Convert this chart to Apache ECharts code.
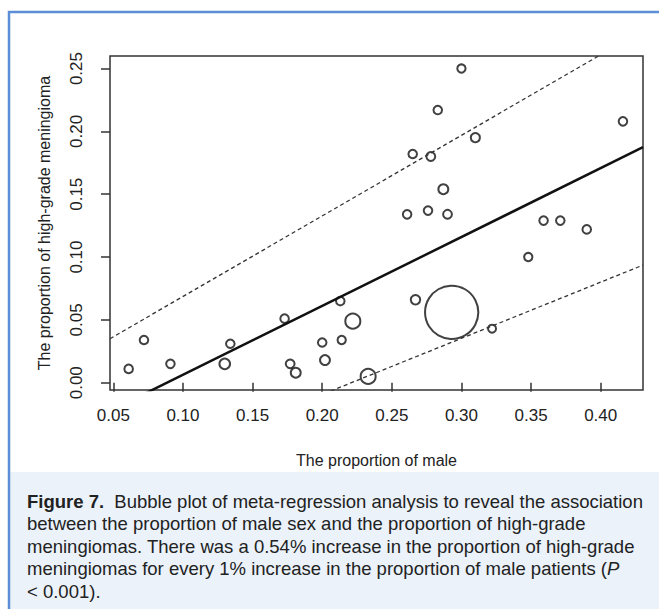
<!DOCTYPE html>
<html>
<head>
<meta charset="utf-8">
<title>Bubble plot of meta-regression</title>
<script src="https://cdn.jsdelivr.net/npm/echarts@6/dist/echarts.min.js"></script>
<style>
  html, body { margin: 0; padding: 0; background: #fff; }
  #chart { width: 659px; height: 609px; }
</style>
</head>
<body>
<div id="chart"></div>
<script>
// proportion of male patients in each study
const maleProp = [0.061, 0.072, 0.091, 0.130, 0.134, 0.173, 0.177, 0.181, 0.200, 0.202,
  0.213, 0.214, 0.222, 0.233, 0.261, 0.265, 0.267, 0.276, 0.278, 0.283,
  0.287, 0.290, 0.293, 0.300, 0.310, 0.322, 0.348, 0.359, 0.371, 0.390, 0.416]
// proportion of high-grade meningioma in each study
const highGrade = [0.011, 0.034, 0.015, 0.015, 0.031, 0.051, 0.015, 0.008, 0.032, 0.018,
  0.065, 0.034, 0.049, 0.005, 0.134, 0.182, 0.066, 0.137, 0.180, 0.217,
  0.154, 0.134, 0.056, 0.250, 0.195, 0.043, 0.100, 0.129, 0.129, 0.122, 0.208]
// relative study weight (bubble area)
const weights = [1.5, 1.5, 1.5, 2.3, 1.5, 1.5, 1.6, 2.0, 1.5, 2.0,
  1.5, 1.4, 4.6, 4.6, 1.5, 1.5, 1.8, 1.5, 1.6, 1.5,
  2.0, 1.6, 58, 1.4, 1.7, 1.3, 1.4, 1.5, 1.5, 1.5, 1.5]

// regression line and prediction bounds (x at the plot edges)
const lineX = [0.0476, 0.4304]
const fitY = [-0.0224, 0.1874]
const upperY = [0.035, 0.2805]
const lowerY = [-0.0775, 0.0936]

const xTicks = [0.05, 0.10, 0.15, 0.20, 0.25, 0.30, 0.35, 0.40]
const yTicks = [0.00, 0.05, 0.10, 0.15, 0.20, 0.25]

const captionLines = [
  '{b|Figure 7.}  Bubble plot of meta-regression analysis to reveal the association',
  'between the proportion of male sex and the proportion of high-grade',
  'meningiomas. There was a 0.54% increase in the proportion of high-grade',
  'meningiomas for every 1% increase in the proportion of male patients ({i|P}',
  '< 0.001).'
]

const axisFont = 'Liberation Sans, Arial, sans-serif'
const capFont = 'Liberation Sans, Arial, sans-serif'
const capSize = 18.5

const pairs = (xs, ys) => xs.map((x, i) => [x, ys[i]])

const chart = echarts.init(document.getElementById('chart'), null, { renderer: 'svg' })

// caption, one text element per printed line
const captionText = captionLines.map((t, i) => ({
  type: 'text',
  silent: true,
  style: {
    text: t,
    x: 27,
    y: 501 + i * 22.5,
    verticalAlign: 'middle',
    fontFamily: capFont,
    fontSize: capSize,
    fill: '#222',
    rich: {
      b: { fontFamily: capFont, fontSize: capSize, fontWeight: 'bold', fill: '#222' },
      i: { fontFamily: capFont, fontSize: capSize, fontStyle: 'italic', fill: '#222' }
    }
  }
}))

const option = {
  animation: false,
  grid: {
    left: 110, top: 56, right: 16, bottom: 219,
    show: true, borderColor: '#333', borderWidth: 1.5, backgroundColor: 'transparent'
  },
  xAxis: {
    type: 'value',
    min: 0.0476,
    max: 0.4304,
    name: 'The proportion of male',
    nameLocation: 'middle',
    nameGap: 62,
    nameTextStyle: { fontFamily: axisFont, fontSize: 16, color: '#222' },
    axisLine: { show: false },
    axisTick: { show: true, length: 9, customValues: xTicks, lineStyle: { color: '#333', width: 1.5 } },
    axisLabel: { customValues: xTicks, formatter: (v) => v.toFixed(2), margin: 17, fontFamily: axisFont, fontSize: 17, color: '#222' },
    splitLine: { show: false }
  },
  yAxis: {
    type: 'value',
    min: -0.0058,
    max: 0.26,
    name: 'The proportion of high-grade meningioma',
    nameLocation: 'middle',
    nameGap: 58,
    nameTextStyle: { fontFamily: axisFont, fontSize: 16, color: '#222' },
    axisLine: { show: false },
    axisTick: { show: true, length: 9, customValues: yTicks, lineStyle: { color: '#333', width: 1.5 } },
    axisLabel: { customValues: yTicks, rotate: 90, formatter: (v) => v.toFixed(2), margin: 25, fontFamily: axisFont, fontSize: 17, color: '#222' },
    splitLine: { show: false }
  },
  series: [
    {
      type: 'line',
      data: pairs(lineX, upperY),
      symbol: 'none',
      clip: true,
      silent: true,
      lineStyle: { color: '#333', width: 1.3, type: [4, 3] }
    },
    {
      type: 'line',
      data: pairs(lineX, lowerY),
      symbol: 'none',
      clip: true,
      silent: true,
      lineStyle: { color: '#333', width: 1.3, type: [4, 3] }
    },
    {
      type: 'line',
      data: pairs(lineX, fitY),
      symbol: 'none',
      clip: true,
      silent: true,
      lineStyle: { color: '#111', width: 2.5 }
    },
    {
      type: 'scatter',
      data: maleProp.map((x, i) => [x, highGrade[i], weights[i]]),
      symbol: 'circle',
      symbolSize: (d) => 7 * Math.sqrt(d[2]),
      silent: true,
      itemStyle: { color: 'rgba(255,255,255,0)', borderColor: '#111', borderWidth: 2 }
    }
  ],
  graphic: [
    { type: 'rect', silent: true, z: -10, shape: { x: 10, y: 472, width: 660, height: 150 }, style: { fill: '#ebf2fa' } },
    { type: 'rect', silent: true, shape: { x: 9, y: 12, width: 700, height: 700 }, style: { fill: 'none', stroke: '#5b8ed6', lineWidth: 2.5 } }
  ].concat(captionText)
}

chart.setOption(option)
</script>
</body>
</html>
